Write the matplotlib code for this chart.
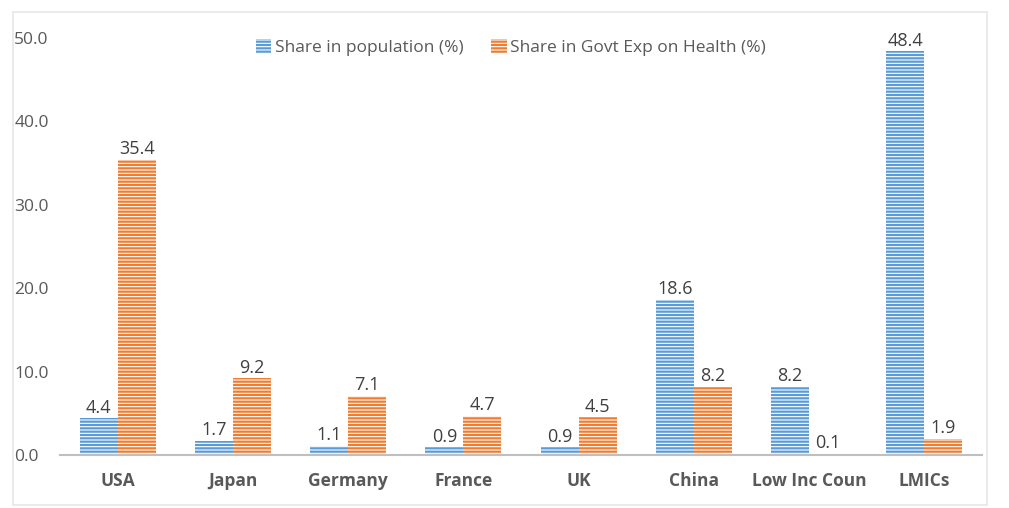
import numpy as np
import matplotlib.pyplot as plt
from matplotlib.patches import Rectangle

categories = ['USA', 'Japan', 'Germany', 'France', 'UK', 'China', 'Low Inc Coun', 'LMICs']
population = [4.4, 1.7, 1.1, 0.9, 0.9, 18.6, 8.2, 48.4]
health_exp = [35.4, 9.2, 7.1, 4.7, 4.5, 8.2, 0.1, 1.9]

blue = '#5B9BD5'
orange = '#ED7D31'
gray = '#595959'

plt.rcParams['font.family'] = ['Open Sans', 'DejaVu Sans']
plt.rcParams['hatch.linewidth'] = 1.6

fig = plt.figure(figsize=(10.09, 5.08), dpi=100)
ax = fig.add_axes([60 / 1009, 53 / 508, 922 / 1009, 417 / 508])

x = np.arange(len(categories))
w = 0.33
b1 = ax.bar(x - w / 2, population, w, facecolor='white', edgecolor=blue,
            hatch='-----', linewidth=0, label='Share in population (%)')
b2 = ax.bar(x + w / 2, health_exp, w, facecolor='white', edgecolor=orange,
            hatch='-----', linewidth=0, label='Share in Govt Exp on Health (%)')

for bars, vals in [(b1, population), (b2, health_exp)]:
    for r, v in zip(bars, vals):
        ax.text(r.get_x() + r.get_width() / 2, v + 0.2, f'{v:.1f}',
                ha='center', va='bottom', fontsize=13, color='#404040')

ax.set_xlim(-0.5, len(categories) - 0.5)
ax.set_ylim(0, 50)
ax.set_yticks(np.arange(0, 51, 10))
ax.set_yticklabels([f'{t:.1f}' for t in np.arange(0, 51, 10)])
ax.set_xticks(x)
ax.set_xticklabels(categories, fontweight='bold')
ax.tick_params(axis='x', length=0, pad=12, labelsize=12.5, labelcolor=gray)
ax.tick_params(axis='y', length=0, labelsize=12.5, labelcolor=gray)
for lab in ax.get_yticklabels():
    lab.set_horizontalalignment('left')
ax.tick_params(axis='y', pad=33)

for s in ['top', 'right', 'left']:
    ax.spines[s].set_visible(False)
ax.spines['bottom'].set_color('#BFBFBF')
ax.spines['bottom'].set_linewidth(1.5)

leg = ax.legend(loc='upper center', bbox_to_anchor=(0.489, 1.035), ncol=2,
                frameon=False, fontsize=12.5, handlelength=0.9, handleheight=0.9,
                handletextpad=0.2, columnspacing=1.6, labelcolor=gray)

fig.add_artist(Rectangle((13 / 1009, 3 / 508), 974 / 1009, 493 / 508,
                         transform=fig.transFigure, fill=False,
                         edgecolor='#E6E6E6', linewidth=1.2))

plt.savefig('out.png')
plt.close()
